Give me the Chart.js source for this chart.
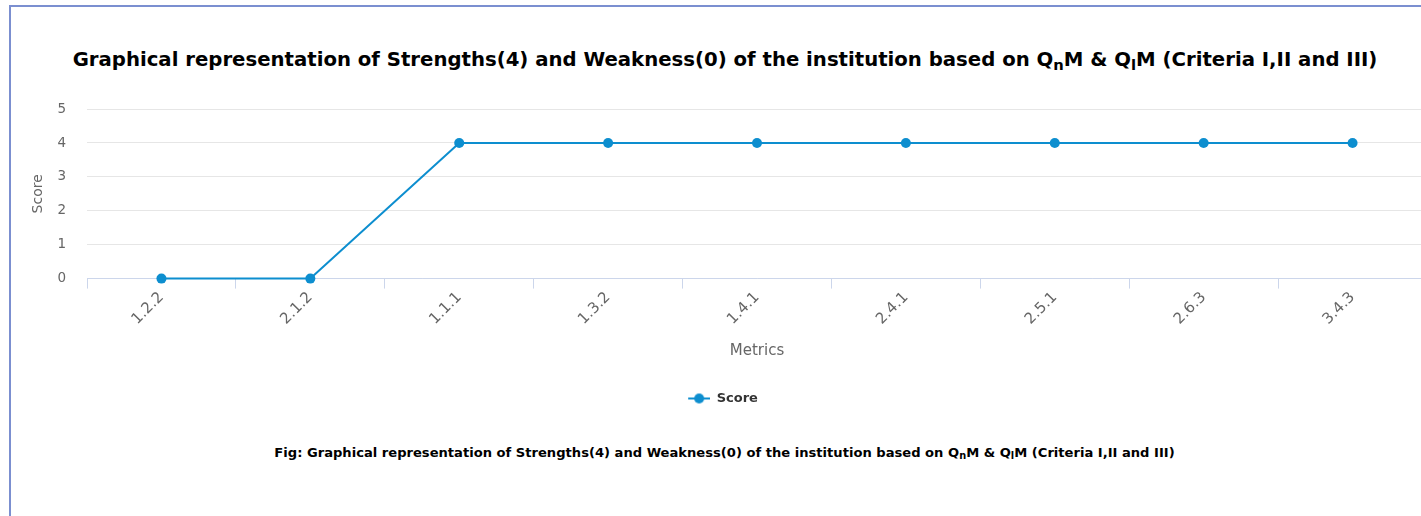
<!DOCTYPE html>
<html>
<head>
<meta charset="utf-8">
<script src="https://cdn.jsdelivr.net/npm/chart.js@4.4.1/dist/chart.umd.min.js"></script>
<style>
  html, body { margin: 0; padding: 0; background: #fff; width: 1421px; height: 516px; overflow: hidden; }
  .frame { position: absolute; left: 9px; top: 5px; width: 1500px; height: 600px;
           border-left: 2px solid #7b8fd0; border-top: 2px solid #7b8fd0; box-sizing: border-box; }
  .title { position: absolute; left: 0; top: 47px; width: 1450px; text-align: center;
           font-family: "DejaVu Sans", sans-serif; font-weight: bold; font-size: 19.7px; color: #000; white-space: nowrap; line-height: 26px; }
  .caption { position: absolute; left: 0; top: 444px; width: 1449px; text-align: center;
           font-family: "DejaVu Sans", sans-serif; font-weight: bold; font-size: 13.1px; color: #000; white-space: nowrap; line-height: 18px; }
  sub { font-size: 0.75em; vertical-align: -0.25em; line-height: 0; }
  .wrap { position: absolute; left: 0; top: 80px; width: 1440px; height: 340px; }
  canvas { display: block; }
</style>
</head>
<body>
<div class="frame"></div>
<div class="title">Graphical representation of Strengths(4) and Weakness(0) of the institution based on Q<sub>n</sub>M &amp; Q<sub>l</sub>M (Criteria I,II and III)</div>
<div class="wrap"><canvas id="c" width="1440" height="340"></canvas></div>
<div class="caption">Fig: Graphical representation of Strengths(4) and Weakness(0) of the institution based on Q<sub>n</sub>M &amp; Q<sub>l</sub>M (Criteria I,II and III)</div>
<script>
const categories = ['1.2.2', '2.1.2', '1.1.1', '1.3.2', '1.4.1', '2.4.1', '2.5.1', '2.6.3', '3.4.3'];
const scores = [0, 0, 4, 4, 4, 4, 4, 4, 4];
const yTicks = [0, 1, 2, 3, 4, 5];
const seriesName = 'Score';
const xTitle = 'Metrics';
const yTitle = 'Score';

const lineColor = '#0d8ecf';

// legend symbol: short line with a dot (with transparent left margin to centre the item like the reference)
const symPad = 19;
const sym = document.createElement('canvas');
sym.width = 22 + symPad; sym.height = 12;
(function () {
  const g = sym.getContext('2d');
  g.strokeStyle = lineColor; g.lineWidth = 2;
  g.beginPath(); g.moveTo(symPad, 6); g.lineTo(symPad + 22, 6); g.stroke();
  g.fillStyle = lineColor;
  g.beginPath(); g.arc(symPad + 11, 6, 5, 0, Math.PI * 2); g.fill();
})();

new Chart(document.getElementById('c'), {
  type: 'line',
  data: {
    labels: categories,
    datasets: [{
      label: seriesName,
      data: scores,
      borderColor: lineColor,
      backgroundColor: lineColor,
      borderWidth: 2,
      pointRadius: 5,
      pointHoverRadius: 5,
      pointBorderWidth: 0,
      pointBackgroundColor: lineColor,
      tension: 0,
      fill: false,
      clip: false
    }]
  },
  options: {
    responsive: false,
    animation: false,
    devicePixelRatio: 1,
    layout: { padding: { top: 0, left: 0, right: 13, bottom: 5 } },
    plugins: {
      title: { display: false },
      tooltip: { enabled: false },
      legend: {
        display: true,
        position: 'bottom',
        labels: {
          usePointStyle: true,
          pointStyle: sym,
          pointStyleWidth: 22 + symPad,
          boxHeight: 12,
          padding: 12,
          color: '#333333',
          font: { family: '"DejaVu Sans", sans-serif', size: 13, weight: 'bold' },
          generateLabels: (chart) => [{
            text: seriesName,
            pointStyle: sym,
            fillStyle: lineColor,
            strokeStyle: lineColor,
            lineWidth: 0,
            hidden: false,
            datasetIndex: 0,
            fontColor: '#333333'
          }]
        }
      }
    },
    scales: {
      x: {
        type: 'category',
        offset: true,
        grid: { offset: true, drawOnChartArea: false, drawTicks: true, tickLength: 10, color: '#ccd6eb', lineWidth: 1 },
        border: { display: true, color: '#ccd6eb', width: 1 },
        ticks: {
          maxRotation: 45, minRotation: 45, padding: 0, autoSkip: false,
          color: '#666666',
          font: { family: '"DejaVu Sans", sans-serif', size: 15 }
        },
        title: {
          display: true, text: xTitle, color: '#666666',
          font: { family: '"DejaVu Sans", sans-serif', size: 15 },
          padding: { top: 0, bottom: 19.4 }
        },
        afterFit: (s) => { s.height = 101.4; }
      },
      y: {
        min: 0, max: 5,
        afterBuildTicks: (s) => { s.ticks = yTicks.map(v => ({ value: v })); },
        grid: { color: '#e6e6e6', lineWidth: 1, drawTicks: false },
        border: { display: false },
        ticks: {
          padding: 21, color: '#666666',
          font: { family: '"DejaVu Sans", sans-serif', size: 13.5 }
        },
        title: {
          display: true, text: yTitle, color: '#666666',
          font: { family: '"DejaVu Sans", sans-serif', size: 14 },
          padding: { top: 30, bottom: 0 }
        },
        afterFit: (s) => { s.width = 87; }
      }
    }
  }
});
</script>
</body>
</html>
